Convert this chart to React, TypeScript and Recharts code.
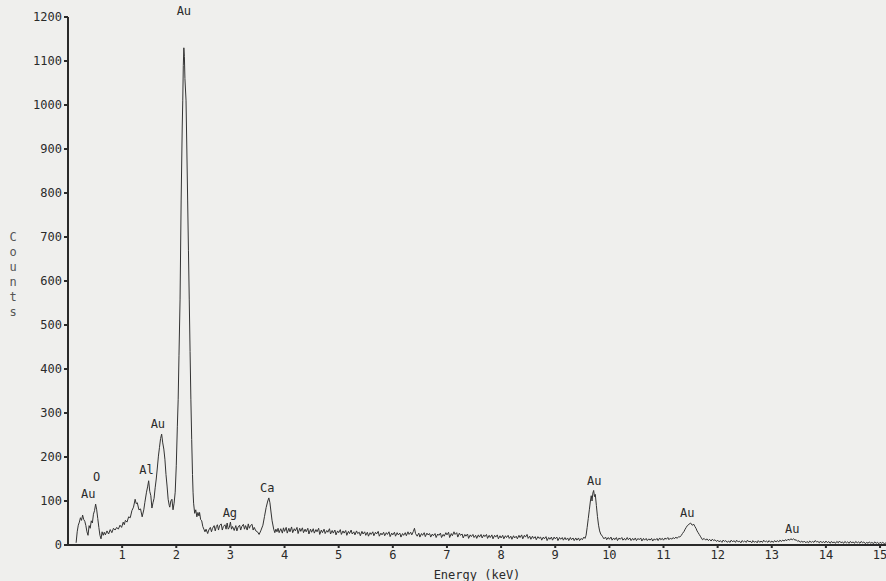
import { LineChart, Line, XAxis, YAxis, ReferenceDot, Label } from 'recharts'

document.body.style.margin = '0'

// spectrum below the big Au M line: [keV, counts]
const lowEnergy: [number, number][] = [
  [0.15, 5], [0.17, 30], [0.19, 45], [0.21, 52], [0.23, 62], [0.25, 56], [0.27, 68], [0.29, 58],
  [0.31, 54], [0.33, 44], [0.35, 30], [0.37, 22], [0.39, 44], [0.41, 38], [0.43, 55], [0.45, 50],
  [0.47, 70], [0.49, 78], [0.51, 93], [0.53, 80], [0.55, 60], [0.57, 40], [0.59, 22], [0.61, 14],
  [0.63, 30], [0.65, 22], [0.67, 29], [0.69, 23], [0.72, 32], [0.75, 25], [0.78, 35], [0.81, 28],
  [0.84, 38], [0.87, 34], [0.9, 40], [0.93, 36], [0.96, 45], [0.99, 40], [1.02, 52], [1.04, 46],
  [1.06, 56], [1.09, 52], [1.12, 64], [1.15, 62], [1.18, 78], [1.21, 86], [1.24, 104], [1.26, 94],
  [1.28, 96], [1.31, 80], [1.34, 82], [1.37, 64], [1.4, 80], [1.42, 97], [1.45, 120], [1.47, 132],
  [1.49, 146], [1.51, 122], [1.53, 112], [1.55, 84], [1.57, 96], [1.59, 106], [1.61, 130], [1.63, 150],
  [1.65, 175], [1.67, 202], [1.69, 222], [1.71, 242], [1.73, 252], [1.75, 232], [1.77, 218], [1.79, 195],
  [1.81, 160], [1.83, 134], [1.85, 104], [1.87, 90], [1.88, 86], [1.9, 100], [1.92, 104], [1.94, 80],
  [1.96, 95],
]

const auMPeak: [number, number][] = [
  [1.98, 120], [2.0, 180], [2.02, 270], [2.035, 330], [2.05, 430], [2.07, 557], [2.09, 784], [2.11, 950],
  [2.12, 1011], [2.13, 1090], [2.14, 1130], [2.15, 1110], [2.16, 1060], [2.18, 1011], [2.195, 900],
  [2.21, 784], [2.225, 670], [2.24, 557], [2.255, 440], [2.27, 330], [2.285, 240], [2.3, 160], [2.31, 120],
  [2.32, 95], [2.34, 72], [2.36, 80], [2.38, 64], [2.4, 74], [2.42, 66], [2.43, 74], [2.45, 58],
  [2.47, 55], [2.49, 42], [2.51, 36],
]

const midEnergy: [number, number][] = [
  [2.53, 30], [2.55, 36], [2.58, 26], [2.6, 34], [2.63, 40], [2.65, 30], [2.67, 38], [2.7, 44],
  [2.72, 32], [2.74, 42], [2.76, 46], [2.78, 34], [2.8, 44], [2.83, 48], [2.85, 34], [2.87, 42],
  [2.9, 46], [2.92, 36], [2.94, 50], [2.96, 36], [2.98, 40], [3.0, 52], [3.02, 36], [3.04, 42],
  [3.07, 33], [3.1, 44], [3.12, 32], [3.14, 40], [3.17, 45], [3.19, 34], [3.21, 42], [3.24, 47],
  [3.26, 36], [3.28, 44], [3.31, 34], [3.33, 48], [3.35, 38], [3.37, 44], [3.4, 47], [3.42, 34],
  [3.44, 40], [3.47, 32], [3.5, 30], [3.53, 24], [3.56, 32], [3.6, 45], [3.63, 65], [3.66, 85],
  [3.69, 100], [3.71, 107], [3.73, 96], [3.75, 75], [3.77, 55], [3.8, 36], [3.82, 28], [3.84, 36],
  [3.86, 30], [3.88, 38], [3.9, 28], [3.93, 37], [3.96, 27], [3.98, 39],
  [4.0, 31], [4.03, 40], [4.05, 27], [4.08, 38], [4.1, 30], [4.13, 41], [4.15, 28], [4.18, 37],
  [4.2, 32], [4.23, 40], [4.25, 26], [4.28, 38], [4.3, 31], [4.33, 39], [4.35, 28], [4.38, 36],
  [4.4, 30], [4.43, 38], [4.45, 25], [4.48, 36], [4.5, 29], [4.53, 37], [4.55, 27], [4.58, 35],
  [4.6, 30], [4.63, 38], [4.65, 24], [4.68, 34], [4.7, 28], [4.73, 36], [4.75, 26], [4.78, 33],
  [4.8, 29], [4.83, 37], [4.85, 25], [4.88, 33], [4.9, 27], [4.93, 34], [4.95, 23], [4.98, 32],
  [5.0, 28], [5.03, 35], [5.05, 24], [5.08, 32], [5.1, 27], [5.13, 33], [5.15, 22], [5.18, 31],
  [5.2, 26], [5.23, 34], [5.25, 25], [5.28, 30], [5.3, 23], [5.33, 32], [5.35, 26], [5.38, 29],
  [5.4, 21], [5.43, 31], [5.45, 25], [5.48, 30], [5.5, 22], [5.53, 29], [5.55, 20], [5.58, 28],
  [5.6, 24], [5.63, 30], [5.65, 21], [5.68, 29], [5.7, 25], [5.73, 31], [5.75, 20], [5.78, 27],
  [5.8, 23], [5.83, 29], [5.85, 21], [5.88, 28], [5.9, 24], [5.93, 30], [5.95, 19], [5.98, 27],
  [6.0, 23], [6.03, 29], [6.05, 20], [6.08, 28], [6.1, 23], [6.13, 27], [6.15, 18], [6.18, 26],
  [6.2, 22], [6.23, 28], [6.25, 21], [6.28, 30], [6.3, 24], [6.33, 29], [6.35, 23], [6.38, 31],
  [6.4, 38], [6.42, 26], [6.45, 20], [6.48, 27], [6.5, 18], [6.53, 26], [6.55, 22], [6.58, 28],
  [6.6, 19], [6.63, 27], [6.65, 23], [6.68, 26], [6.7, 18], [6.73, 25], [6.75, 21], [6.78, 26],
  [6.8, 17], [6.83, 25], [6.85, 22], [6.88, 27], [6.9, 17], [6.93, 24], [6.95, 20], [6.98, 28],
  [7.0, 23], [7.03, 29], [7.05, 17], [7.08, 26], [7.1, 21], [7.13, 30], [7.15, 24], [7.18, 28],
  [7.2, 18], [7.23, 27], [7.25, 22], [7.28, 25], [7.3, 16], [7.33, 24], [7.35, 20], [7.38, 25],
  [7.4, 15], [7.43, 23], [7.45, 19], [7.48, 24], [7.5, 17], [7.53, 22], [7.55, 15], [7.58, 23],
  [7.6, 18], [7.63, 24], [7.65, 16], [7.68, 23], [7.7, 19], [7.73, 24], [7.75, 15], [7.78, 22],
  [7.8, 17], [7.83, 23], [7.85, 14], [7.88, 22], [7.9, 18], [7.93, 23], [7.95, 14], [7.98, 21],
  [8.0, 16], [8.03, 22], [8.05, 14], [8.08, 21], [8.1, 17], [8.13, 22], [8.15, 15], [8.18, 20],
  [8.2, 13], [8.23, 21], [8.25, 16], [8.28, 20], [8.3, 14], [8.33, 22], [8.35, 17], [8.38, 23],
  [8.4, 14], [8.43, 22], [8.45, 18], [8.48, 24], [8.5, 15], [8.53, 20], [8.55, 13], [8.58, 20],
  [8.6, 15], [8.63, 19], [8.65, 12], [8.68, 19], [8.7, 15], [8.73, 18], [8.75, 11], [8.78, 18],
  [8.8, 14], [8.83, 19], [8.85, 10], [8.88, 17], [8.9, 13], [8.93, 18], [8.95, 11], [8.98, 18],
  [9.0, 14], [9.03, 18], [9.05, 10], [9.08, 17], [9.1, 13], [9.13, 17], [9.15, 11], [9.18, 17],
  [9.2, 12], [9.23, 16], [9.25, 10], [9.28, 17], [9.3, 12], [9.33, 16], [9.35, 10], [9.38, 16],
  [9.4, 11], [9.43, 16], [9.45, 10], [9.48, 15], [9.5, 12], [9.53, 18], [9.55, 15],
]

const auLPeaks: [number, number][] = [
  [9.57, 22], [9.59, 40], [9.61, 60], [9.63, 80], [9.65, 100], [9.665, 112], [9.68, 100], [9.695, 118],
  [9.71, 124], [9.725, 110], [9.74, 115], [9.76, 90], [9.78, 65], [9.8, 45], [9.82, 32], [9.84, 25],
  [9.87, 20], [9.9, 14], [9.93, 18], [9.95, 12], [9.98, 17], [10.0, 13], [10.03, 18], [10.05, 11],
  [10.08, 16], [10.1, 12], [10.13, 17], [10.15, 10], [10.18, 16], [10.2, 13], [10.23, 17], [10.25, 11],
  [10.28, 15], [10.3, 11], [10.33, 17], [10.35, 12], [10.38, 16], [10.4, 10], [10.43, 15], [10.45, 11],
  [10.48, 16], [10.5, 10], [10.53, 15], [10.55, 12], [10.58, 16], [10.6, 9], [10.63, 15], [10.65, 11],
  [10.68, 15], [10.7, 10], [10.73, 14], [10.75, 11], [10.78, 15], [10.8, 9], [10.83, 14], [10.85, 11],
  [10.88, 15], [10.9, 10], [10.93, 16], [10.95, 12], [10.98, 15], [11.0, 11], [11.03, 16], [11.05, 13],
  [11.08, 17], [11.1, 12], [11.13, 16], [11.15, 13], [11.18, 17], [11.2, 14], [11.23, 18], [11.25, 15],
  [11.28, 19], [11.3, 18], [11.33, 22], [11.35, 26], [11.38, 31], [11.4, 36], [11.42, 40], [11.44, 44],
  [11.47, 47], [11.5, 50], [11.53, 45], [11.56, 47], [11.58, 42], [11.6, 38], [11.62, 32], [11.64, 28],
  [11.66, 24], [11.68, 20], [11.7, 16], [11.72, 12], [11.75, 15], [11.78, 11], [11.8, 14], [11.83, 10],
  [11.85, 13], [11.88, 9], [11.9, 13], [11.93, 10], [11.95, 12], [11.98, 8],
]

const highEnergy: [number, number][] = [
  [12.0, 11], [12.03, 7], [12.05, 10], [12.08, 6], [12.1, 11], [12.13, 8], [12.15, 10], [12.18, 6],
  [12.2, 9], [12.23, 6], [12.25, 11], [12.28, 7], [12.3, 10], [12.33, 6], [12.35, 11], [12.38, 7],
  [12.4, 9], [12.43, 5], [12.45, 10], [12.48, 7], [12.5, 9], [12.53, 6], [12.55, 11], [12.58, 7],
  [12.6, 9], [12.63, 5], [12.65, 10], [12.68, 6], [12.7, 9], [12.73, 5], [12.75, 10], [12.78, 6],
  [12.8, 9], [12.83, 6], [12.85, 11], [12.88, 7], [12.9, 9], [12.93, 6], [12.95, 10], [12.98, 6],
  [13.0, 9], [13.03, 6], [13.05, 10], [13.08, 7], [13.1, 10], [13.13, 7], [13.15, 11], [13.18, 8],
  [13.2, 11], [13.23, 9], [13.25, 12], [13.28, 10], [13.3, 13], [13.33, 11], [13.35, 14], [13.38, 12],
  [13.4, 14], [13.43, 11], [13.45, 12], [13.48, 8], [13.5, 10], [13.53, 6], [13.55, 9], [13.58, 6],
  [13.6, 9], [13.63, 5], [13.65, 8], [13.68, 5], [13.7, 9], [13.73, 6], [13.75, 8], [13.78, 6],
  [13.8, 10], [13.83, 7], [13.85, 8], [13.88, 5], [13.9, 9], [13.93, 5], [13.95, 8], [13.98, 5],
  [14.0, 9], [14.03, 5], [14.05, 8], [14.08, 4], [14.1, 8], [14.13, 5], [14.15, 7], [14.18, 4],
  [14.2, 8], [14.23, 5], [14.25, 9], [14.28, 5], [14.3, 7], [14.33, 4], [14.35, 8], [14.38, 5],
  [14.4, 7], [14.43, 4], [14.45, 8], [14.48, 5], [14.5, 7], [14.53, 4], [14.55, 8], [14.58, 5],
  [14.6, 7], [14.63, 4], [14.65, 8], [14.68, 5], [14.7, 7], [14.73, 3], [14.75, 6], [14.78, 4],
  [14.8, 7], [14.83, 4], [14.85, 6], [14.88, 3], [14.9, 7], [14.93, 4], [14.95, 6], [14.98, 3],
  [15.0, 6], [15.03, 4], [15.05, 6], [15.08, 3], [15.11, 5],
]

// peak labels: element, keV, counts where the text sits
const peakLabels: [string, number, number][] = [
  ['Au', 0.375, 117], ['O', 0.53, 155], ['Al', 1.45, 170], ['Au', 1.66, 276], ['Au', 2.14, 1215],
  ['Ag', 2.99, 74], ['Ca', 3.68, 130], ['Au', 9.72, 147], ['Au', 11.44, 74], ['Au', 13.38, 36],
]

const xTicks = [1, 2, 3, 4, 5, 6, 7, 8, 9, 10, 11, 12, 13, 14, 15]
const yTicks = [0, 100, 200, 300, 400, 500, 600, 700, 800, 900, 1000, 1100, 1200]

const spectrum = [...lowEnergy, ...auMPeak, ...midEnergy, ...auLPeaks, ...highEnergy].map(([e, c]) => ({ e, c }))

const FONT = '"DejaVu Sans Mono", "Liberation Mono", monospace'
const INK = '#2a2a2a'

function CountsLabel() {
  return (
    <text x={13} y={226} fill="#555" fontFamily={FONT} fontSize={12} textAnchor="middle">
      {'Counts'.split('').map((ch, i) => (
        <tspan key={i} x={13} dy={15}>{ch}</tspan>
      ))}
    </text>
  )
}

export default function App() {
  return (
    <div style={{ width: 886, height: 581, background: '#efefed' }}>
      <LineChart width={886} height={581} data={spectrum} margin={{ top: 17, right: 0, bottom: 0, left: 0 }}>
        <XAxis
          dataKey="e"
          type="number"
          domain={[0, 15.11]}
          ticks={xTicks}
          allowDataOverflow
          height={36}
          tickSize={3}
          tickMargin={2}
          stroke={INK}
          strokeWidth={2}
          tick={{ fill: INK, fontFamily: FONT, fontSize: 12 }}
        >
          <Label value="Energy (keV)" position="insideBottom" offset={2} fill={INK} fontFamily={FONT} fontSize={12} />
        </XAxis>
        <YAxis
          type="number"
          domain={[0, 1200]}
          ticks={yTicks}
          width={68}
          tickSize={4}
          tickMargin={2}
          stroke={INK}
          strokeWidth={2}
          tick={{ fill: INK, fontFamily: FONT, fontSize: 12 }}
        >
          <Label content={<CountsLabel />} />
        </YAxis>
        <Line
          type="linear"
          dataKey="c"
          stroke="#333"
          strokeWidth={1}
          dot={false}
          isAnimationActive={false}
        />
        {peakLabels.map(([name, e, c], i) => (
          <ReferenceDot
            key={i}
            x={e}
            y={c}
            r={0}
            fill="none"
            stroke="none"
            ifOverflow="visible"
            label={{ value: name, position: 'center', fill: INK, fontFamily: FONT, fontSize: 12 }}
          />
        ))}
      </LineChart>
    </div>
  )
}
